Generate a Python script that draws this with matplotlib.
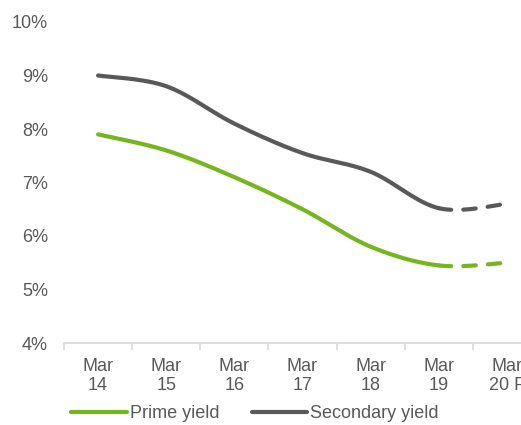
import numpy as np
import matplotlib.pyplot as plt

plt.rcParams['font.family'] = ['Liberation Sans', 'DejaVu Sans']

# Data
periods = ["Mar\n14", "Mar\n15", "Mar\n16", "Mar\n17", "Mar\n18", "Mar\n19", "Mar\n20 F"]
prime_yield = [7.9, 7.6, 7.1, 6.5, 5.8, 5.45, 5.5]
secondary_yield = [9.0, 8.8, 8.1, 7.55, 7.2, 6.52, 6.6]
n_actual = 6  # last point is a forecast (dashed)

green = '#76B51E'
grey = '#595959'
text_col = '#595959'


def smooth(xs, ys, n=30):
    # Excel-style smoothed line (Bezier with Catmull-Rom control points)
    p = np.column_stack([xs, ys]).astype(float)
    pts = np.vstack([p[0], p, p[-1]])
    out = []
    for i in range(1, len(pts) - 2):
        p0, p1, p2, p3 = pts[i - 1], pts[i], pts[i + 1], pts[i + 2]
        b1 = p1 + (p2 - p0) / 6
        b2 = p2 - (p3 - p1) / 6
        t = np.linspace(0, 1, n)[:, None]
        seg = (1 - t) ** 3 * p1 + 3 * (1 - t) ** 2 * t * b1 + 3 * (1 - t) * t ** 2 * b2 + t ** 3 * p2
        out.append(seg if i == 1 else seg[1:])
    return np.vstack(out)


fig = plt.figure(figsize=(5.21, 4.25), dpi=100)
ax = fig.add_axes([64 / 521, 82 / 425, 477 / 521, 321 / 425])

x = np.arange(len(periods))
for vals, col, lab in [(prime_yield, green, 'Prime yield'), (secondary_yield, grey, 'Secondary yield')]:
    curve = smooth(x, vals)
    split = 30 * (n_actual - 1) - (n_actual - 2)
    ax.plot(curve[:split, 0], curve[:split, 1], color=col, lw=3, solid_capstyle='round', label=lab)
    ax.plot(curve[split - 1:, 0], curve[split - 1:, 1], color=col, lw=3,
            dashes=(3, 2.9), dash_capstyle='round')

ax.set_xlim(-0.5, 6.5)
ax.set_ylim(4, 10)
ax.set_yticks(np.arange(4, 11, 1))
ax.set_yticklabels([f'{v}%' for v in range(4, 11)])
ax.set_xticks(x)
ax.set_xticklabels(periods, linespacing=1.15)
ax.set_xticks(np.arange(-0.5, 7, 1), minor=True)

for s in ['top', 'right', 'left']:
    ax.spines[s].set_visible(False)
ax.spines['bottom'].set_color('#D9D9D9')
ax.spines['bottom'].set_linewidth(1.2)

ax.tick_params(axis='x', which='major', length=0, pad=10.5, labelsize=13, colors=text_col)
ax.tick_params(axis='x', which='minor', length=5, width=1.2, color='#D9D9D9')
ax.tick_params(axis='y', length=0, pad=11.5, labelsize=13, colors=text_col)

fig.legend(loc='center', bbox_to_anchor=(0.489, 0.026), ncol=2, frameon=False,
           fontsize=13, labelcolor=text_col, handlelength=3.1, handletextpad=0.15,
           columnspacing=1.8)

fig.savefig('out.png', dpi=100)
